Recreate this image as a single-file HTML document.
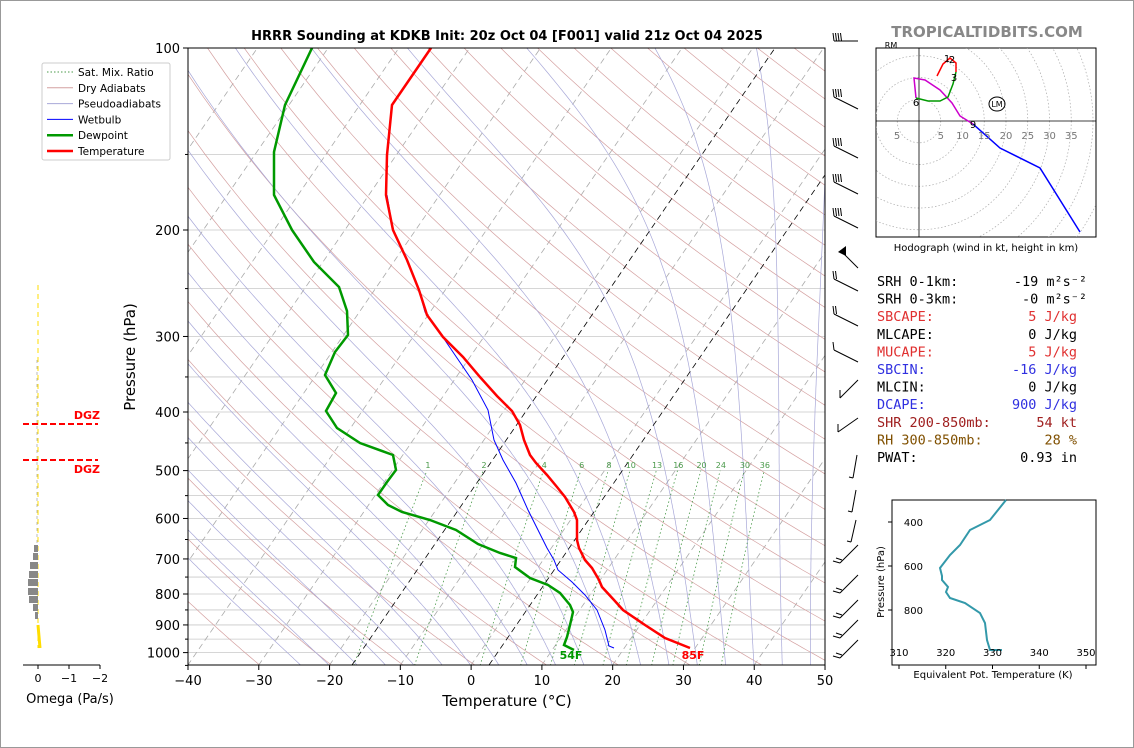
<!DOCTYPE html>
<html><head><meta charset="utf-8">
<style>
html,body{margin:0;padding:0;background:#fff;}
body{width:1134px;height:748px;overflow:hidden;font-family:"DejaVu Sans","Liberation Sans",sans-serif;}
#frame{position:absolute;left:0;top:0;width:1132px;height:746px;border:1px solid #999;}
</style></head>
<body>
<div id="frame"></div>
<svg id="s" width="1134" height="748" style="position:absolute;left:0;top:0" xmlns="http://www.w3.org/2000/svg">
<defs><clipPath id="cp"><rect x="188" y="48" width="637" height="617"/></clipPath>
<clipPath id="ch"><rect x="876" y="48" width="220" height="189"/></clipPath></defs>
<g id="bg" clip-path="url(#cp)"></g>
<g id="fg"></g>
</svg>
<script>
var NS="http://www.w3.org/2000/svg";
var bg=document.getElementById('bg'),fg=document.getElementById('fg');
function el(p,t,a,txt){var e=document.createElementNS(NS,t);for(var k in a)e.setAttribute(k,a[k]);if(txt!==undefined)e.textContent=txt;p.appendChild(e);return e;}
function py(p){return 48+604.6*Math.log10(p/100);}
function px(T,p){return 188+(T+40)*7.078+0.686*(665-py(p));}
function poly(g,pts,a){a.points=pts.map(function(q){return q[0].toFixed(1)+","+q[1].toFixed(1)}).join(" ");a.fill="none";return el(g,'polyline',a);}
for(var p=100;p<=1050;p+=50){var y=py(p);el(bg,'line',{x1:188,x2:825,y1:y,y2:y,stroke:'#c8c8c8','stroke-width':0.8});}
for(var T=-130;T<=50;T+=10){poly(bg,[[px(T,1050),py(1050)],[px(T,100),py(100)]],{stroke:'#aaa','stroke-width':0.8,'stroke-dasharray':'6,4'});}
for(var th=230;th<=520;th+=10){var pts=[];for(var p=1050;p>=100;p-=10){pts.push([px(th*Math.pow(p/1000,0.2857)-273.15,p),py(p)]);}poly(bg,pts,{stroke:'#d4a0a0','stroke-width':0.7});}
function es(Tc){return 6.112*Math.exp(17.67*Tc/(Tc+243.5));}
for(var T0=-24;T0<=48;T0+=4){var T=T0+273.15,pts=[];
 for(var p=1050;p>=100;p-=5){pts.push([px(T-273.15,p),py(p)]);var e=es(T-273.15),rs=0.622*e/(p-e);
 var d=(287*T+2.5e6*rs)/(p*(1005+2.5e6*2.5e6*rs*0.622/(287*T*T)));T-=d*5;}
 poly(bg,pts,{stroke:'#a8a8d8','stroke-width':0.7});}
var ws=[1,2,4,6,8,10,13,16,20,24,30,36];
ws.forEach(function(w){var pts=[];for(var p=1050;p>=500;p-=10){var e=w/1000*p/(0.622+w/1000),l=Math.log(e/6.112);var T=243.5*l/(17.67-l);pts.push([px(T,p),py(p)]);}
 poly(bg,pts,{stroke:'#4a9a4a','stroke-width':0.8,'stroke-dasharray':'1.5,2.5'});
 var e=w/1000*495/(0.622+w/1000),l=Math.log(e/6.112);var T=243.5*l/(17.67-l);
 el(fg,'text',{x:px(T,495),y:468,'font-size':8,fill:'#4a9a4a','text-anchor':'middle'},String(w));});
el(bg,'line',{x1:352,y1:665,x2:775,y2:48,stroke:'#000','stroke-width':0.8,'stroke-dasharray':'6,4'});
el(bg,'line',{x1:489,y1:665,x2:912,y2:48,stroke:'#000','stroke-width':0.8,'stroke-dasharray':'6,4'});
var TT=[[431,48],[392,105],[387,155],[386,195],[393,230],[407,260],[419,290],[427,315],[443,337],[463,357],[480,377],[497,396],[512,411],[520,425],[524,440],[530,455],[536,463],[547,475],[557,487],[565,497],[574,512],[577,520],[577,540],[579,548],[585,560],[592,568],[599,580],[602,587],[614,600],[623,610],[645,625],[665,638],[690,648]];
var TD=[[312,48],[285,105],[274,152],[274,195],[292,230],[314,262],[339,287],[347,311],[348,335],[335,352],[325,375],[336,393],[326,411],[337,428],[360,443],[393,455],[396,470],[387,482],[378,495],[388,505],[402,512],[430,520],[456,530],[478,544],[500,553],[516,558],[515,567],[530,578],[548,585],[560,593],[570,605],[573,612],[570,625],[567,637],[564,645],[574,650]];
var TW=[[387,195],[393,230],[407,260],[419,290],[425,312],[438,330],[455,355],[472,380],[488,410],[494,440],[503,460],[516,483],[528,510],[538,530],[547,548],[554,560],[558,570],[572,582],[585,595],[597,610],[605,630],[609,646],[614,648]];
poly(fg,TW,{stroke:'#0000ff','stroke-width':1});
poly(fg,TD,{stroke:'#009900','stroke-width':2.5});
poly(fg,TT,{stroke:'#ff0000','stroke-width':2.5});
el(fg,'text',{x:571,y:659,'font-size':11,'font-weight':'bold',fill:'#009900','text-anchor':'middle'},'54F');
el(fg,'text',{x:693,y:659,'font-size':11,'font-weight':'bold',fill:'#ff0000','text-anchor':'middle'},'85F');
el(fg,'rect',{x:188,y:48,width:637,height:617,fill:'none',stroke:'#000','stroke-width':1});
[100,200,300,400,500,600,700,800,900,1000].forEach(function(p){var y=py(p);el(fg,'line',{x1:183,x2:188,y1:y,y2:y,stroke:'#000'});el(fg,'text',{x:180,y:y+5,'font-size':13,'text-anchor':'end'},String(p));});
for(var p=150;p<=1050;p+=50){if(p%100){var y=py(p);el(fg,'line',{x1:185,x2:188,y1:y,y2:y,stroke:'#000'});}}
for(var T=-40;T<=50;T+=10){var x=188+(T+40)*7.078;el(fg,'line',{x1:x,x2:x,y1:665,y2:670,stroke:'#000'});el(fg,'text',{x:x,y:685,'font-size':13,'text-anchor':'middle'},(T<0?'\u2212'+(-T):String(T)));}
el(fg,'text',{x:507,y:706,'font-size':15,'text-anchor':'middle'},'Temperature (°C)');
el(fg,'text',{x:135,y:357,'font-size':15,'text-anchor':'middle',transform:'rotate(-90 135 357)'},'Pressure (hPa)');
el(fg,'text',{x:507,y:40,'font-size':13,'font-weight':'bold','text-anchor':'middle'},'HRRR Sounding at KDKB Init: 20z Oct 04 [F001] valid 21z Oct 04 2025');
el(fg,'text',{x:987,y:37,'font-size':15,'font-weight':'bold',fill:'#888','text-anchor':'middle'},'TROPICALTIDBITS.COM');
var lg=el(fg,'g',{});
el(lg,'rect',{x:42,y:63,width:128,height:97,fill:'#fff',stroke:'#ccc',rx:2});
[['Sat. Mix. Ratio','#4a9a4a',1,'1.5,2'],['Dry Adiabats','#d4a0a0',1,''],['Pseudoadiabats','#a8a8d8',1,''],['Wetbulb','#0000ff',1,''],['Dewpoint','#009900',2.5,''],['Temperature','#ff0000',2.5,'']].forEach(function(r,i){var y=72+i*15.8;
 var a={x1:47,x2:73,y1:y,y2:y,stroke:r[1],'stroke-width':r[2]};if(r[3])a['stroke-dasharray']=r[3];el(lg,'line',a);
 el(lg,'text',{x:78,y:y+4,'font-size':10.5},r[0]);});
// wind barbs
function L(x1,y1,x2,y2){el(fg,'line',{x1:x1,y1:y1,x2:x2,y2:y2,stroke:'#000','stroke-width':1});}
var up=[45,103,152,188,222,253,285,320,356];
up.forEach(function(y,i){var x1=834,y1=y-6,x2=858,y2=y+(i==0?-4:6);if(i==0){y1=y-4;}
 if(i==5){/* flag */el(fg,'polygon',{points:'838,252 846,246 846,256',fill:'#000'});L(842,252,858,268);return;}
 L(x1,y1,x2,y2);var nf=i<5?4:(i<8?2:1);for(var k=0;k<nf;k++){L(x1+k*2.5,y1,x1+k*2.5-1,y1-8);}});
var mid=[[390,840,398,858,380],[420,838,432,858,418],[455,853,478,857,455],[490,852,512,856,490],[520,851,542,856,520]];
mid.forEach(function(m){L(m[1],m[2],m[3],m[4]);L(m[1],m[2],m[1]+(m[1]<845?0:-4),m[2]-(m[1]<845?8:1));});
[555,585,610,630,650].forEach(function(y){L(840,y+8,858,y-10);L(840,y+8,833,y+6);L(842,y+5,836,y+3);});
// hodograph
var h=el(fg,'g',{});
el(h,'rect',{x:876,y:48,width:220,height:189,fill:'#fff',stroke:'#000'});
var hg=el(h,'g',{'clip-path':'url(#ch)'});
for(var r=5;r<=60;r+=5)el(hg,'circle',{cx:919,cy:121,r:r*4.35,fill:'none',stroke:'#aaa','stroke-width':0.7,'stroke-dasharray':'1.5,2'});
el(hg,'line',{x1:876,x2:1096,y1:121,y2:121,stroke:'#000','stroke-width':0.8});
el(hg,'line',{x1:919,x2:919,y1:48,y2:237,stroke:'#000','stroke-width':0.8});
el(h,'text',{x:897,y:139,'font-size':10,fill:'#777','text-anchor':'middle'},'5');
[5,10,15,20,25,30,35].forEach(function(v){el(h,'text',{x:919+v*4.35,y:139,'font-size':10,fill:'#777','text-anchor':'middle'},String(v));});
poly(hg,[[973,124],[1000,148],[1040,168],[1080,232]],{stroke:'#0000ff','stroke-width':1.5});
poly(hg,[[916,98],[914,78],[925,80],[940,90],[952,103],[960,116],[973,124]],{stroke:'#cc00cc','stroke-width':1.5});
poly(hg,[[956,72],[953,84],[948,97],[940,101],[928,101],[916,98]],{stroke:'#009900','stroke-width':1.5});
poly(hg,[[937,76],[943,64],[950,58],[956,63],[956,72]],{stroke:'#ff0000','stroke-width':1.5});
[['1',947,62],['2',952,63],['3',954,81],['6',916,106],['9',973,128]].forEach(function(t){el(h,'text',{x:t[1],y:t[2],'font-size':10,'text-anchor':'middle'},t[0]);});
el(h,'ellipse',{cx:997,cy:104,rx:8,ry:7,fill:'none',stroke:'#000'});el(h,'text',{x:997,y:107,'font-size':8,'text-anchor':'middle'},'LM');
el(h,'text',{x:891,y:48,'font-size':8,'text-anchor':'middle'},'RM');
el(fg,'text',{x:986,y:251,'font-size':10,'text-anchor':'middle'},'Hodograph (wind in kt, height in km)');
var rows=[['SRH 0-1km:','-19 m²s⁻²','#000'],['SRH 0-3km:','-0 m²s⁻²','#000'],['SBCAPE:','5 J/kg','#e03030'],['MLCAPE:','0 J/kg','#000'],['MUCAPE:','5 J/kg','#e03030'],['SBCIN:','-16 J/kg','#3030e0'],['MLCIN:','0 J/kg','#000'],['DCAPE:','900 J/kg','#3030e0'],['SHR 200-850mb:','54 kt','#a02020'],['RH 300-850mb:','28 %','#805000'],['PWAT:','0.93 in','#000']];
rows.forEach(function(r,i){var y=286+i*17.6;el(fg,'text',{x:877,y:y,'font-size':13.5,'font-family':'DejaVu Sans Mono,Liberation Mono,monospace',fill:r[2]},r[0]);
 el(fg,'text',{x:i<2?1087:1077,y:y,'font-size':13.5,'font-family':'DejaVu Sans Mono,Liberation Mono,monospace',fill:r[2],'text-anchor':'end'},r[1]);});
var te=el(fg,'g',{});
el(te,'rect',{x:892,y:500,width:204,height:165,fill:'#fff',stroke:'#000'});
poly(te,[[1006,500],[990,520],[970,530],[960,545],[950,555],[940,568],[942,576],[942,580],[948,587],[946,592],[950,598],[965,603],[980,613],[985,623],[987,640],[990,650],[1002,650]],{stroke:'#3399aa','stroke-width':2});
[[400,522],[600,566],[800,610]].forEach(function(t){el(te,'line',{x1:888,x2:892,y1:t[1],y2:t[1],stroke:'#000'});el(te,'text',{x:923,y:t[1]+4,'font-size':10,'text-anchor':'end'},String(t[0]));});
[310,320,330,340,350].forEach(function(v){var x=899+(v-310)*4.675;el(te,'text',{x:x,y:656,'font-size':10,'text-anchor':'middle'},String(v));el(te,'line',{x1:x,x2:x,y1:665,y2:669,stroke:'#000'});});
el(fg,'text',{x:993,y:678,'font-size':10,'text-anchor':'middle'},'Equivalent Pot. Temperature (K)');
el(fg,'text',{x:884,y:582,'font-size':10,'text-anchor':'middle',transform:'rotate(-90 884 582)'},'Pressure (hPa)');
var o=el(fg,'g',{});
el(o,'line',{x1:38,x2:38,y1:285,y2:648,stroke:'#ffdd00','stroke-width':1,'stroke-dasharray':'5,4'});
el(o,'line',{x1:37,x2:37,y1:360,y2:545,stroke:'#bbb','stroke-width':1,'stroke-dasharray':'3,3'});
[[545,34],[553,33],[562,30],[571,29],[579,28],[588,28],[596,29],[604,33],[612,35]].forEach(function(b){el(o,'rect',{x:b[1],y:b[0],width:38-b[1],height:7,fill:'#888'});});
el(o,'line',{x1:38,x2:40,y1:625,y2:648,stroke:'#ffdd00','stroke-width':3});
el(o,'line',{x1:23,x2:98,y1:424,y2:424,stroke:'#ff0000','stroke-width':2,'stroke-dasharray':'6,3'});
el(o,'line',{x1:23,x2:98,y1:460,y2:460,stroke:'#ff0000','stroke-width':2,'stroke-dasharray':'6,3'});
el(o,'text',{x:100,y:419,'font-size':11,'font-weight':'bold',fill:'#ff0000','text-anchor':'end'},'DGZ');
el(o,'text',{x:100,y:473,'font-size':11,'font-weight':'bold',fill:'#ff0000','text-anchor':'end'},'DGZ');
el(o,'line',{x1:23,x2:100,y1:665,y2:665,stroke:'#000'});
[[38,'0'],[69,'\u22121'],[100,'\u22122']].forEach(function(t){el(o,'line',{x1:t[0],x2:t[0],y1:665,y2:669,stroke:'#000'});el(o,'text',{x:t[0],y:682,'font-size':11,'text-anchor':'middle'},t[1]);});
el(o,'text',{x:70,y:703,'font-size':13,'text-anchor':'middle'},'Omega (Pa/s)');
</script>
</body></html>
